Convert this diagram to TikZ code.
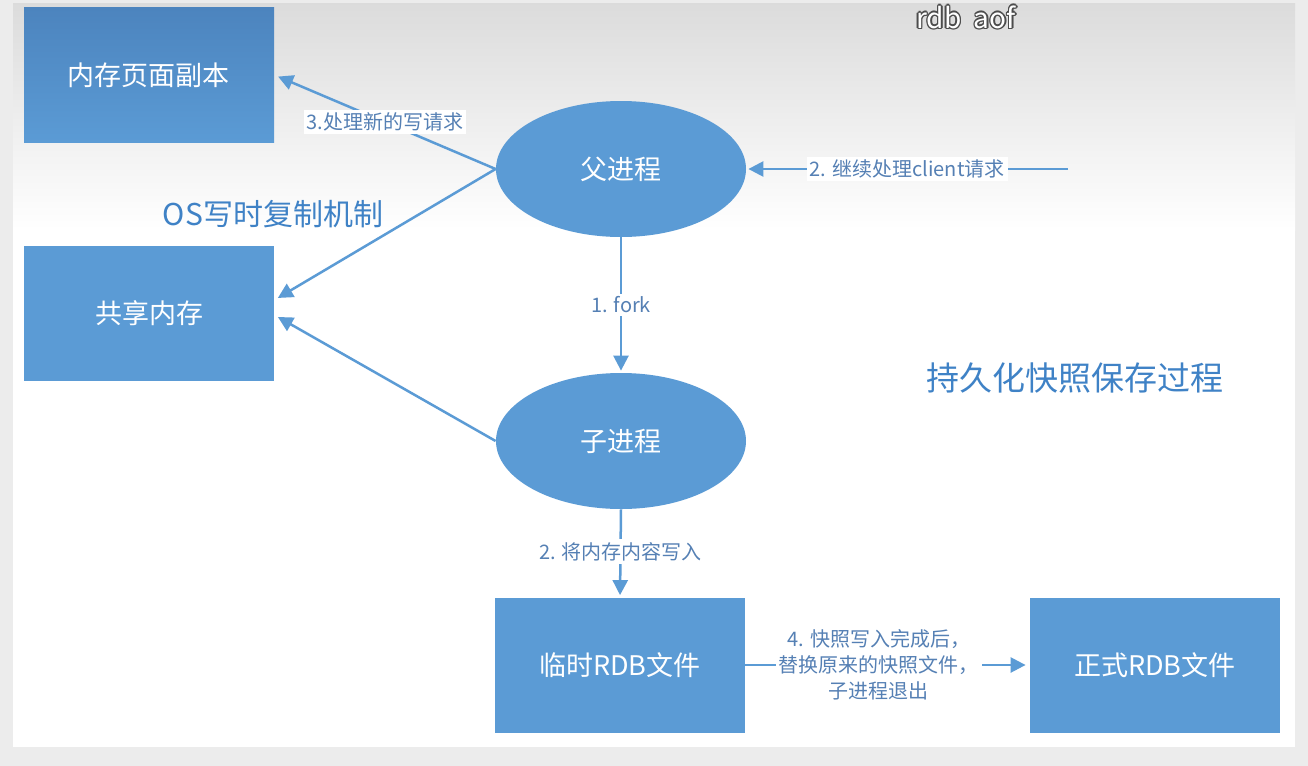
\documentclass[tikz,border=0pt]{standalone}
\usepackage{fontspec}
\setmainfont{Noto Sans CJK SC}
\usetikzlibrary{arrows.meta,shapes.geometric}
\definecolor{ms}{HTML}{5B9BD5}
\definecolor{msdark}{HTML}{4C84BE}
\definecolor{lbl}{HTML}{5580B4}
\definecolor{ttl}{HTML}{3F82C6}
\definecolor{bg}{HTML}{ECECEC}
\begin{document}
\begin{tikzpicture}[x=0.5pt,y=-0.5pt,
  box/.style={fill=ms, minimum width=125pt, minimum height=67.5pt, inner sep=0pt,
    text=white, font=\fontsize{13.5}{15}\selectfont},
  proc/.style={ellipse, fill=ms, minimum width=125pt, minimum height=68pt, inner sep=0pt,
    text=white, font=\fontsize{13.5}{15}\selectfont},
  conn/.style={draw=ms, line width=1.25pt, -{Triangle[length=7.5pt,width=7.5pt]}},
  lab/.style={fill=white, text=lbl, inner sep=1.5pt, font=\fontsize{10}{13}\selectfont, align=center},
  title/.style={text=ttl, inner sep=0pt}]
\useasboundingbox (0,0) rectangle (1308,766);
\fill[bg] (0,0) rectangle (1308,766);
\fill[white] (13,3) rectangle (1295,747);
\shade[top color=black!14, bottom color=white] (13,3) rectangle (1295,230);

% nodes
\node[box, top color=msdark, bottom color=ms] (copy) at (149,75) {内存页面副本};
\node[box] (share) at (149,313) {共享内存};
\node[proc] (fu) at (621,169) {父进程};
\node[proc] (zi) at (621,441) {子进程};
\node[box] (tmp) at (620,665) {临时RDB文件};
\node[box] (final) at (1155,665) {正式RDB文件};
\coordinate (cl) at (1068,169);

% connectors
\draw[conn, shorten >=2pt] (fu.west) -- (copy.east) node[lab, pos=0.5] {3.处理新的写请求};
\draw[conn, shorten >=2pt] (fu.west) -- ([yshift=6.5pt]share.east);
\draw[conn, shorten >=2pt] (zi.west) -- ([yshift=-1pt]share.east);
\draw[conn, shorten >=1pt] (cl) -- (fu.east) node[lab, pos=0.5] {2. 继续处理client请求};
\draw[conn, shorten >=1pt] (fu.south) -- (zi.north) node[lab, pos=0.5] {1. fork};
\draw[conn, shorten >=1pt] (zi.south) -- (tmp.north) node[lab, pos=0.48] {2. 将内存内容写入};
\draw[conn, shorten >=2pt] (tmp.east) -- (final.west)
  node[lab, pos=0.47] {4. 快照写入完成后，\\替换原来的快照文件，\\子进程退出};

% titles
\node[title, font=\fontsize{15}{18}\selectfont] (os) at (273,214) {OS写时复制机制};
\node[title, font=\fontsize{16.5}{20}\selectfont] (persist) at (1075,378) {持久化快照保存过程};

% outlined "rdb aof"
\foreach \dx/\dy in {-1.5/0,1.5/0,0/-1.5,0/1.5,-1/-1,1/1,-1/1,1/-1}
  \node[text=black!70, inner sep=0pt, font=\fontsize{14}{16}\selectfont] at ([xshift=\dx*0.5pt,yshift=\dy*0.5pt]966,17) {rdb\ \ aof};
\node[text=white, inner sep=0pt, font=\fontsize{14}{16}\selectfont] (ra) at (966,17) {rdb\ \ aof};
\end{tikzpicture}
\end{document}
